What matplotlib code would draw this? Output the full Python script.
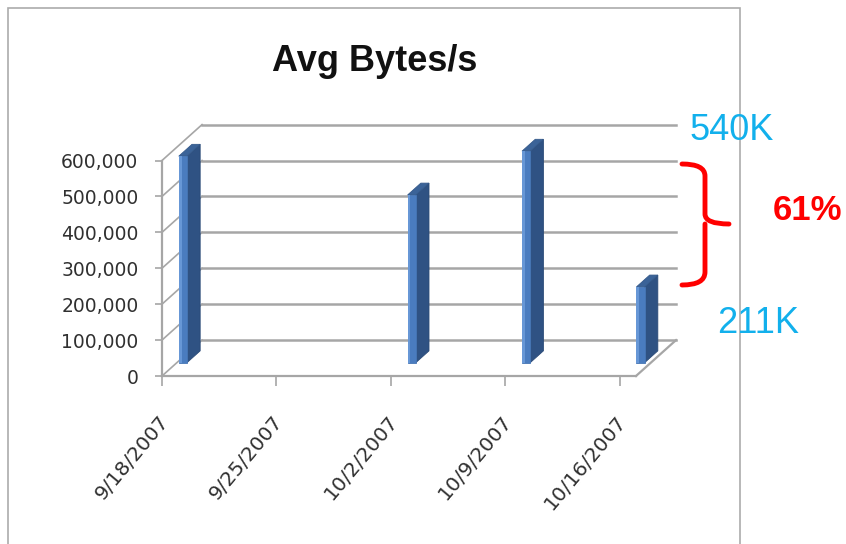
import datetime as dt
import matplotlib
matplotlib.use("Agg")
import matplotlib.pyplot as plt
from matplotlib.patches import Polygon, Rectangle, PathPatch
from matplotlib.path import Path
from matplotlib import transforms
from matplotlib.ticker import StrMethodFormatter

# weekly averages, one bar per sampled week
week_labels = ['9/18/2007', '9/25/2007', '10/2/2007', '10/9/2007', '10/16/2007']
bar_dates = ['9/18/2007', '10/2/2007', '10/9/2007', '10/16/2007']
avg_bytes = [575000, 467000, 589000, 211000]
y_ticks = [0, 100000, 200000, 300000, 400000, 500000, 600000]

high_note = '540K'
low_note = '211K'
drop_note = '61%'

START = dt.date(2007, 9, 18)
N_DAYS = 29

# fake 3D: how far the back wall sits from the front plane (data units)
DEPTH_X = 2.45
DEPTH_Y = 100000
BAR_X0, BAR_X1 = 0.12, 0.62
BAR_D0, BAR_D1 = 0.37, 0.70

GRID = '#a6a6a6'
FONT = ['Liberation Sans', 'DejaVu Sans']


def day(s):
    m, d, y = map(int, s.split('/'))
    return (dt.date(y, m, d) - START).days


def shift(x, y, d):
    return (x + d * DEPTH_X, y + d * DEPTH_Y)


W, H = 846, 544
fig = plt.figure(figsize=(W / 100, H / 100), dpi=100)
ax = fig.add_axes([162 / W, (H - 376) / H, 474 / W, 215.5 / H])
ax.set_xlim(0, N_DAYS)
ax.set_ylim(0, 600000)

for s in ['top', 'right']:
    ax.spines[s].set_visible(False)
for s in ['left', 'bottom']:
    ax.spines[s].set_color(GRID)
    ax.spines[s].set_linewidth(1.6)

# back wall and side wall grid
for v in y_ticks:
    x0, y0 = shift(0, v, 1)
    x1, y1 = shift(N_DAYS, v, 1)
    ax.plot([x0, x1], [y0, y1], color=GRID, lw=1.8, clip_on=False, zorder=1)
    ax.plot([0, x0], [v, y0], color=GRID, lw=1.2, clip_on=False, zorder=1)
# right edge of the floor
fx, fy = shift(N_DAYS, 0, 1)
ax.plot([N_DAYS, fx], [0, fy], color=GRID, lw=1.6, clip_on=False, zorder=1)

# bars
for d, v in zip(bar_dates, avg_bytes):
    t = day(d)
    x0, x1 = t + BAR_X0, t + BAR_X1
    xm = x0 + 0.35 * (x1 - x0)
    front = [shift(x0, 0, BAR_D0), shift(x1, 0, BAR_D0),
             shift(x1, v, BAR_D0), shift(x0, v, BAR_D0)]
    shine = [shift(x0, 0, BAR_D0), shift(xm, 0, BAR_D0),
             shift(xm, v, BAR_D0), shift(x0, v, BAR_D0)]
    side = [shift(x1, 0, BAR_D0), shift(x1, 0, BAR_D1),
            shift(x1, v, BAR_D1), shift(x1, v, BAR_D0)]
    top = [shift(x0, v, BAR_D0), shift(x1, v, BAR_D0),
           shift(x1, v, BAR_D1), shift(x0, v, BAR_D1)]
    ax.add_patch(Polygon(side, closed=True, fc='#2f5283', ec='#2a4a77',
                         lw=0.6, clip_on=False, zorder=3))
    ax.add_patch(Polygon(top, closed=True, fc='#3b6398', ec='#34598a',
                         lw=0.6, clip_on=False, zorder=3))
    ax.add_patch(Polygon(front, closed=True, fc='#4a7cbf', ec='#4676b5',
                         lw=0.6, clip_on=False, zorder=3))
    ax.add_patch(Polygon(shine, closed=True, fc='#6797d6', ec='none',
                         clip_on=False, zorder=3))

# y axis
ax.set_yticks(y_ticks)
ax.yaxis.set_major_formatter(StrMethodFormatter('{x:,.0f}'))
ax.tick_params(axis='y', length=5, width=1.2, color=GRID, pad=12,
               labelsize=13.5, labelcolor='#303030')

# x axis: weekly ticks, slanted date labels
week_days = [day(s) for s in week_labels]
ax.set_xticks(week_days)
ax.set_xticklabels([])
ax.tick_params(axis='x', length=7.5, width=1.2, color=GRID)
lbl_tr = transforms.offset_copy(ax.transData, fig=fig, x=-4, y=-36, units='dots')
for x, s in zip(week_days, week_labels):
    ax.text(x, 0, s, transform=lbl_tr, rotation=50, rotation_mode='anchor',
            ha='right', va='top', fontsize=14.5, color='#303030')

# outer frame
fig.patches.append(Rectangle((8 / W, -0.02), (740 - 8) / W, 1 - 8 / H + 0.02,
                             transform=fig.transFigure, fill=False,
                             ec='#ababab', lw=1.2, zorder=0))

fig.text(375 / W, 1 - 71 / H, 'Avg Bytes/s', ha='center', va='baseline',
         fontsize=26, fontweight='bold', family=FONT, color='#111111')

# notes on the right
fig.text(689 / W, 1 - 140 / H, high_note, ha='left', va='baseline',
         fontsize=26, family=FONT, color='#12b0ec', zorder=5)
fig.text(717 / W, 1 - 333 / H, low_note, ha='left', va='baseline',
         fontsize=26, family=FONT, color='#12b0ec', zorder=5)
fig.text(773 / W, 1 - 220 / H, drop_note, ha='left', va='baseline',
         fontsize=25, fontweight='bold', family=FONT, color='#ff0000', zorder=5)

# red brace between the two notes (figure pixels, y measured from top)
pts = [(682, 164), (705, 164), (705, 176), (705, 214), (705, 224), (729, 224),
       (705, 224), (705, 234), (705, 272), (705, 285), (682, 285)]
codes = [Path.MOVETO, Path.CURVE3, Path.CURVE3, Path.LINETO, Path.CURVE3,
         Path.LINETO, Path.MOVETO, Path.CURVE3, Path.LINETO, Path.CURVE3,
         Path.CURVE3]
brace = Path([(x / W, 1 - y / H) for x, y in pts], codes)
fig.patches.append(PathPatch(brace, transform=fig.transFigure, fill=False,
                             ec='#ff0000', lw=3.5, capstyle='round',
                             joinstyle='round'))

fig.savefig('out.png', dpi=100, facecolor='white')
